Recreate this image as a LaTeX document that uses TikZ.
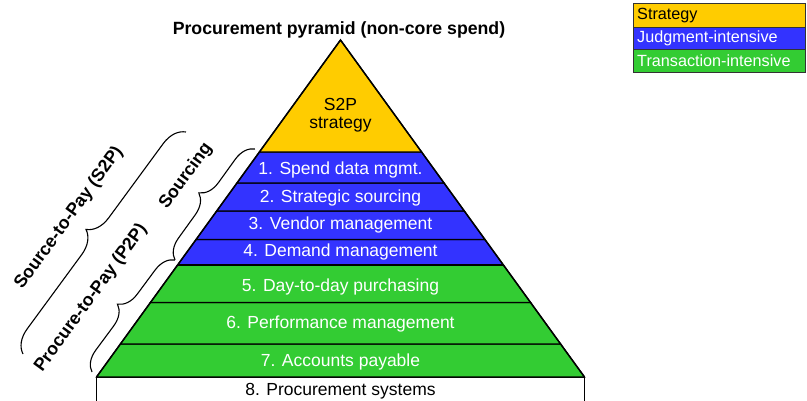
\documentclass[tikz,border=0pt]{standalone}
\usepackage{fontspec}
\setmainfont{Liberation Sans}
\usetikzlibrary{decorations.pathreplacing}
\definecolor{cyel}{HTML}{FFCC00}
\definecolor{cblu}{HTML}{3333FF}
\definecolor{cgrn}{HTML}{33CC33}
\tikzset{
  band/.style={draw=black, line width=1.1pt, line join=miter},
  bandtext/.style={text=white, font=\fontsize{17.5}{18}\selectfont, inner sep=0pt},
  blacktext/.style={text=black, font=\fontsize{17.5}{18}\selectfont, inner sep=0pt},
  sidelabel/.style={font=\bfseries\fontsize{17.8}{20}\selectfont, rotate=54, inner sep=0pt},
  bracestyle/.style={draw=black, line width=1.1pt, decorate, decoration={brace, amplitude=#1}},
  legrow/.style={draw=black!80, line width=0.8pt},
  legtext/.style={font=\fontsize{16.2}{18}\selectfont, anchor=west, inner sep=0pt}
}
\begin{document}
\begin{tikzpicture}[x=1pt,y=-1pt]
\useasboundingbox (0,0) rectangle (807,400);

% title
\node[font=\bfseries\fontsize{17.7}{20}\selectfont, inner sep=0pt] (title) at (339,30) {Procurement pyramid (non-core spend)};

% box 8
\filldraw[fill=white, draw=black, line width=1.3pt] (96.5,403) -- (96.5,377) -- (584.5,377) -- (584.5,403);
% green bands
\filldraw[band, fill=cgrn] (120.4,344) -- (560.6,344) -- (584.5,377) -- (96.5,377) -- cycle;
\filldraw[band, fill=cgrn] (150.4,302.5) -- (530.6,302.5) -- (560.6,344) -- (120.4,344) -- cycle;
\filldraw[band, fill=cgrn] (177.6,265) -- (503.4,265) -- (530.6,302.5) -- (150.4,302.5) -- cycle;
% blue bands
\filldraw[band, fill=cblu] (196.1,239.5) -- (484.9,239.5) -- (503.4,265) -- (177.6,265) -- cycle;
\filldraw[band, fill=cblu] (216.7,211) -- (464.3,211) -- (484.9,239.5) -- (196.1,239.5) -- cycle;
\filldraw[band, fill=cblu] (237.0,183) -- (444.0,183) -- (464.3,211) -- (216.7,211) -- cycle;
\filldraw[band, fill=cblu] (259.4,152) -- (421.6,152) -- (444.0,183) -- (237.0,183) -- cycle;
% yellow top
\filldraw[band, fill=cyel] (340.5,40) -- (421.6,152) -- (259.4,152) -- cycle;
% outline edges
\draw[line width=1.5pt] (96.5,377) -- (340.5,40) -- (584.5,377);
\draw[line width=1.8pt] (177.6,265) -- (503.4,265);

% band texts
\node[blacktext, align=center] (t0) at (340.5,115) {S2P\\strategy};
\node[bandtext] (t1) at (340.5,170) {1. Spend data mgmt.};
\node[bandtext] (t2) at (340.5,197.5) {2. Strategic sourcing};
\node[bandtext] (t3) at (340.5,225) {3. Vendor management};
\node[bandtext] (t4) at (340.5,252) {4. Demand management};
\node[bandtext] (t5) at (340.5,286.5) {5. Day-to-day purchasing};
\node[bandtext] (t6) at (340.5,324) {6. Performance management};
\node[bandtext] (t7) at (340.5,361.5) {7. Accounts payable};
\node[blacktext] (t8) at (340.5,391.5) {8. Procurement systems};

% braces
\coordinate (s2pA) at (23,354);
\coordinate (s2pB) at (186,132);
\coordinate (p2pA) at (92,372);
\coordinate (p2pB) at (175,260);
\coordinate (srcA) at (175,260);
\coordinate (srcB) at (255,149);
\draw[bracestyle=23pt] (s2pA) -- (s2pB);
\draw[bracestyle=20pt] (p2pA) -- (p2pB);
\draw[bracestyle=20pt] (srcA) -- (srcB);

\node[sidelabel] (ls2p) at (69,218) {Source-to-Pay (S2P)};
\node[sidelabel] (lp2p) at (91,298) {Procure-to-Pay (P2P)};
\node[sidelabel] (lsrc) at (186,176) {Sourcing};

% legend
\filldraw[legrow, fill=cyel] (633,3.5) rectangle (805,27.3);
\filldraw[legrow, fill=cblu] (633,27.3) rectangle (805,49);
\filldraw[legrow, fill=cgrn] (633,49) rectangle (805,72);
\node[legtext, text=black] (lg1) at (637,15.8) {Strategy};
\node[legtext, text=white] (lg2) at (637,38.3) {Judgment-intensive};
\node[legtext, text=white] (lg3) at (637,61) {Transaction-intensive};
\end{tikzpicture}
\end{document}
